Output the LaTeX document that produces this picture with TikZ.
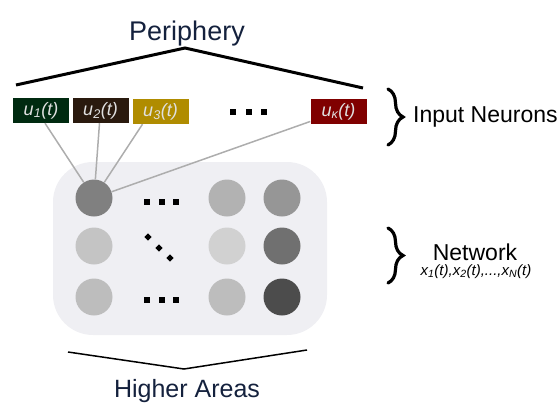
\documentclass[tikz,border=0pt]{standalone}
\usepackage{fontspec}
\setmainfont{Liberation Sans}
\usetikzlibrary{decorations.pathreplacing}
\definecolor{navy}{HTML}{14213D}
\definecolor{cA}{HTML}{002A10}
\definecolor{cB}{HTML}{2A1A0E}
\definecolor{cC}{HTML}{B08C00}
\definecolor{cD}{HTML}{800000}
\definecolor{netbg}{HTML}{EFEFF3}
\begin{document}
\begin{tikzpicture}[x=1pt,y=-1pt,
  inbox/.style={rectangle, minimum width=56pt, minimum height=25pt, inner sep=0pt,
    text=black!12, font=\fontsize{18}{18}\selectfont\itshape},
  neuron/.style={circle, minimum size=37pt, inner sep=0pt},
  dotsq/.style={rectangle, fill=black, minimum size=6pt, inner sep=0pt},
  dotdia/.style={rectangle, fill=black, minimum size=5pt, inner sep=0pt, rotate=45},
  wire/.style={draw=black!32, line width=1.5pt},
  title/.style={font=\fontsize{27}{27}\selectfont, text=navy, inner sep=0pt},
  side/.style={font=\fontsize{23}{23}\selectfont, text=black, inner sep=0pt},
  curly/.style={decorate, decoration={brace, amplitude=15pt, aspect=0.5}, line width=3.2pt, line cap=round}
]
\useasboundingbox (0,0) rectangle (560,402);

% network background
\node[fill=netbg, rounded corners=40pt, minimum width=274pt, minimum height=173pt, inner sep=0pt] (net) at (190,248.5) {};

% neurons
\node[neuron, fill=black!50] (n11) at (94,198) {};
\node[neuron, fill=black!30] (n12) at (227,198) {};
\node[neuron, fill=black!41] (n13) at (282,198) {};
\node[neuron, fill=black!23] (n21) at (94,246) {};
\node[neuron, fill=black!18] (n22) at (227,246) {};
\node[neuron, fill=black!56] (n23) at (282,246) {};
\node[neuron, fill=black!26] (n31) at (94,297) {};
\node[neuron, fill=black!26] (n32) at (227,297) {};
\node[neuron, fill=black!70] (n33) at (282,297) {};

% ellipsis dots in network
\node[dotsq] (d1a) at (147,202) {};
\node[dotsq] (d1b) at (161.5,202) {};
\node[dotsq] (d1c) at (176,202) {};
\node[dotdia] (d2a) at (148,237) {};
\node[dotdia] (d2b) at (159,248) {};
\node[dotdia] (d2c) at (170,258) {};
\node[dotsq] (d3a) at (147,300) {};
\node[dotsq] (d3b) at (161.5,300) {};
\node[dotsq] (d3c) at (176,300) {};

% input neurons
\node[inbox, fill=cA] (u1) at (41,110.5) {u\textsubscript{1}(t)};
\node[inbox, fill=cB] (u2) at (100.5,110.5) {u\textsubscript{2}(t)};
\node[inbox, fill=cC] (u3) at (160.5,111.5) {u\textsubscript{3}(t)};
\node[inbox, fill=cD] (uK) at (338.5,111.5) {u\textsubscript{κ}(t)};
\node[dotsq] (ua) at (233,112) {};
\node[dotsq] (ub) at (248.5,112) {};
\node[dotsq] (uc) at (264,112) {};

% wires
\draw[wire] ([xshift=4pt]u1.south) -- (n11);
\draw[wire] ([xshift=-1pt]u2.south) -- (n11);
\draw[wire] ([xshift=-18pt]u3.south) -- (n11);
\draw[wire] (uK) -- (n11);

% periphery
\node[title, anchor=base] (peri) at (187,40) {Periphery};
\coordinate (pl) at (16,85);
\coordinate (pt) at (185,48);
\coordinate (pr) at (363,88);
\draw[line width=3pt] (pl) -- (pt) -- (pr);

% higher areas
\node[title, font=\fontsize{25}{25}\selectfont, anchor=base] (high) at (187,397) {Higher Areas};
\coordinate (hl) at (68,352);
\coordinate (hb) at (184,369);
\coordinate (hr) at (307,350);
\draw[line width=1.5pt] (hl) -- (hb) -- (hr);

% braces and side labels
\coordinate (b1t) at (388,89);
\coordinate (b1b) at (388,145);
\draw[curly] (b1t) -- (b1b);
\node[side, anchor=west] (inlab) at (413,117) {Input Neurons};
\coordinate (b2t) at (388,228);
\coordinate (b2b) at (388,283);
\draw[curly] (b2t) -- (b2b);
\node[side, anchor=base] (netlab) at (475,260) {Network};
\node[inner sep=0pt, anchor=base, font=\fontsize{15}{15}\selectfont\itshape] (xlab) at (476,275)
  {x\textsubscript{1}(t),x\textsubscript{2}(t),...,x\textsubscript{N}(t)};
\end{tikzpicture}
\end{document}
